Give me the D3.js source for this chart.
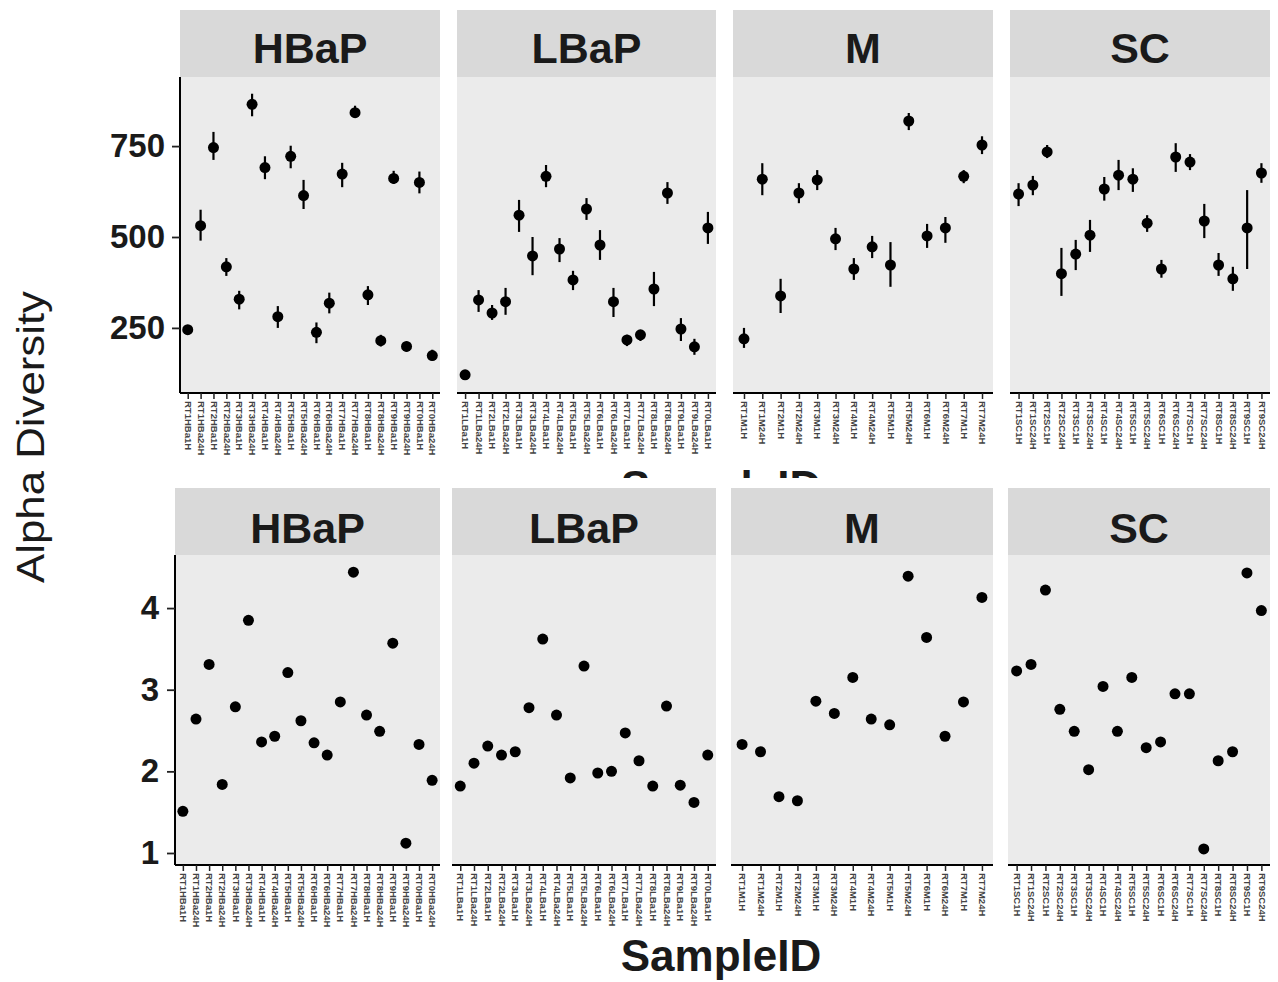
<!DOCTYPE html>
<html>
<head>
<meta charset="utf-8">
<script src="https://cdn.jsdelivr.net/npm/d3@7"></script>
<style>
  html, body { margin: 0; padding: 0; background: #ffffff; }
  svg { display: block; font-family: "Liberation Sans", Arial, sans-serif; }
</style>
</head>
<body>
<svg id="chart" width="1278" height="982"></svg>
<script>
// ---------------- DATA ----------------
const groups = ["HBaP", "LBaP", "M", "SC"];

// sample IDs per group (x tick labels)
const idsHBaP = ["RT1HBa1H","RT1HBa24H","RT2HBa1H","RT2HBa24H","RT3HBa1H","RT3HBa24H","RT4HBa1H","RT4HBa24H","RT5HBa1H","RT5HBa24H",
                 "RT6HBa1H","RT6HBa24H","RT7HBa1H","RT7HBa24H","RT8HBa1H","RT8HBa24H","RT9HBa1H","RT9HBa24H","RT0HBa1H","RT0HBa24H"];
const idsLBaP = ["RT1LBa1H","RT1LBa24H","RT2LBa1H","RT2LBa24H","RT3LBa1H","RT3LBa24H","RT4LBa1H","RT4LBa24H","RT5LBa1H","RT5LBa24H",
                 "RT6LBa1H","RT6LBa24H","RT7LBa1H","RT7LBa24H","RT8LBa1H","RT8LBa24H","RT9LBa1H","RT9LBa24H","RT0LBa1H"];
const idsM    = ["RT1M1H","RT1M24H","RT2M1H","RT2M24H","RT3M1H","RT3M24H","RT4M1H","RT4M24H","RT5M1H","RT5M24H",
                 "RT6M1H","RT6M24H","RT7M1H","RT7M24H"];
const idsSC   = ["RT1SC1H","RT1SC24H","RT2SC1H","RT2SC24H","RT3SC1H","RT3SC24H","RT4SC1H","RT4SC24H","RT5SC1H","RT5SC24H",
                 "RT6SC1H","RT6SC24H","RT7SC1H","RT7SC24H","RT8SC1H","RT8SC24H","RT9SC1H","RT9SC24H"];

// Top row: observed richness (mean, lower, upper)
const richHBaP   = [245, 531, 746, 418, 329, 865, 691, 281, 722, 614, 238, 318, 673, 842, 341, 215, 661, 199, 650, 174];
const richHBaPLo = [232, 490, 712, 393, 301, 832, 659, 250, 689, 577, 208, 290, 637, 829, 313, 199, 646, 185, 620, 160];
const richHBaPHi = [258, 575, 789, 442, 352, 894, 722, 310, 751, 657, 265, 347, 704, 861, 365, 231, 682, 212, 680, 190];

const richLBaP   = [121, 327, 291, 322, 560, 448, 667, 467, 382, 577, 478, 322, 217, 231, 357, 621, 247, 198, 525];
const richLBaPLo = [107, 294, 272, 286, 514, 395, 637, 431, 354, 547, 437, 280, 200, 214, 310, 591, 214, 176, 481];
const richLBaPHi = [133, 354, 313, 360, 602, 500, 698, 497, 407, 607, 519, 360, 231, 244, 404, 651, 277, 220, 569];

const richM   = [220, 659, 338, 621, 657, 495, 412, 473, 423, 819, 503, 525, 667, 753];
const richMLo = [195, 615, 291, 593, 629, 464, 382, 442, 363, 794, 470, 484, 648, 728];
const richMHi = [250, 703, 385, 648, 684, 525, 442, 503, 486, 841, 536, 555, 684, 777];

const richSC   = [618, 643, 734, 399, 453, 505, 632, 670, 659, 538, 412, 720, 706, 544, 423, 385, 525, 676];
const richSCLo = [585, 615, 717, 338, 409, 459, 600, 629, 624, 514, 388, 679, 684, 497, 393, 352, 412, 649];
const richSCHi = [648, 668, 753, 470, 492, 547, 665, 712, 689, 560, 437, 758, 728, 591, 456, 418, 629, 703];

// Bottom row: Shannon index
const shanHBaP = [1.51, 2.64, 3.31, 1.84, 2.79, 3.85, 2.36, 2.43, 3.21, 2.62, 2.35, 2.20, 2.85, 4.44, 2.69, 2.49, 3.57, 1.12, 2.33, 1.89];
const shanLBaP = [1.82, 2.10, 2.31, 2.20, 2.24, 2.78, 3.62, 2.69, 1.92, 3.29, 1.98, 2.00, 2.47, 2.13, 1.82, 2.80, 1.83, 1.62, 2.20];
const shanM    = [2.33, 2.24, 1.69, 1.64, 2.86, 2.71, 3.15, 2.64, 2.57, 4.39, 3.64, 2.43, 2.85, 4.13];
const shanSC   = [3.23, 3.31, 4.22, 2.76, 2.49, 2.02, 3.04, 2.49, 3.15, 2.29, 2.36, 2.95, 2.95, 1.05, 2.13, 2.24, 4.43, 3.97];

const richTicks = [250, 500, 750];
const shanTicks = [1, 2, 3, 4];

const yLabel = "Alpha Diversity";
const xLabel = "SampleID";

// ---------------- BUILD ----------------
const ids = [idsHBaP, idsLBaP, idsM, idsSC];
const richMean = [richHBaP, richLBaP, richM, richSC];
const richLo = [richHBaPLo, richLBaPLo, richMLo, richSCLo];
const richHi = [richHBaPHi, richLBaPHi, richMHi, richSCHi];
const shan = [shanHBaP, shanLBaP, shanM, shanSC];

const svg = d3.select("#chart");

const rows = [
  { stripTop: 10, panelTop: 77, panelBottom: 393, stripBase: 63,
    xs: [[180, 440], [457, 716], [733, 993], [1010, 1270]],
    domain: [71, 940], ticks: richTicks, errors: true, tickPad: 7 },
  { stripTop: 488, panelTop: 555, panelBottom: 865, stripBase: 543,
    xs: [[175, 440], [452, 716], [731, 993], [1008, 1270]],
    domain: [0.853, 4.65], ticks: shanTicks, errors: false, tickPad: 8 }
];

// clip for the top-row x title that is hidden under the bottom figure
svg.append("defs").append("clipPath").attr("id", "topclip")
  .append("rect").attr("x", 0).attr("y", 0).attr("width", 1278).attr("height", 478);

rows.forEach((row, ri) => {
  const y = d3.scaleLinear().domain(row.domain).range([row.panelBottom, row.panelTop]);
  groups.forEach((g, gi) => {
    const [x0, x1] = row.xs[gi];
    const x = d3.scalePoint().domain(ids[gi]).range([x0, x1]).padding(0.6);
    const gp = svg.append("g");

    // strip
    gp.append("rect").attr("x", x0).attr("y", row.stripTop)
      .attr("width", x1 - x0).attr("height", row.panelTop - row.stripTop)
      .attr("fill", "#d9d9d9");
    gp.append("text").attr("x", (x0 + x1) / 2).attr("y", row.stripBase)
      .attr("text-anchor", "middle").attr("font-size", 43).attr("font-weight", "bold")
      .attr("fill", "#1a1a1a").text(g);

    // panel
    gp.append("rect").attr("x", x0).attr("y", row.panelTop)
      .attr("width", x1 - x0).attr("height", row.panelBottom - row.panelTop)
      .attr("fill", "#ebebeb");

    // data
    const n = ids[gi].length;
    const idx = d3.range(n);
    if (row.errors) {
      gp.selectAll("line.err").data(idx).join("line").attr("class", "err")
        .attr("x1", i => x(ids[gi][i])).attr("x2", i => x(ids[gi][i]))
        .attr("y1", i => y(richLo[gi][i])).attr("y2", i => y(richHi[gi][i]))
        .attr("stroke", "#000").attr("stroke-width", 2.2);
      gp.selectAll("circle").data(idx).join("circle")
        .attr("cx", i => x(ids[gi][i])).attr("cy", i => y(richMean[gi][i]))
        .attr("r", 5.5).attr("fill", "#000");
    } else {
      gp.selectAll("circle").data(idx).join("circle")
        .attr("cx", i => x(ids[gi][i])).attr("cy", i => y(shan[gi][i]))
        .attr("r", 5.5).attr("fill", "#000");
    }

    // x axis
    const xa = gp.append("g").attr("transform", `translate(0,${row.panelBottom})`)
      .call(d3.axisBottom(x).tickSize(6).tickSizeOuter(0));
    xa.select(".domain").attr("stroke", "#000").attr("stroke-width", 2)
      .attr("d", `M${x0},0H${x1}`);
    xa.selectAll(".tick line").attr("stroke", "#222").attr("stroke-width", 1.5);
    xa.selectAll(".tick text")
      .attr("x", 0).attr("y", 0).attr("dy", "0.35em")
      .attr("transform", "translate(0,8) rotate(90)")
      .attr("text-anchor", "start")
      .attr("font-size", 9.5).attr("font-weight", "bold")
      .attr("font-family", "'Liberation Sans', Arial, sans-serif")
      .attr("fill", "#444");

    // y axis (first panel only)
    if (gi === 0) {
      const ya = gp.append("g").attr("transform", `translate(${x0},0)`)
        .call(d3.axisLeft(y).tickValues(row.ticks).tickSize(8).tickPadding(row.tickPad).tickSizeOuter(0)
              .tickFormat(d3.format("d")));
      ya.select(".domain").attr("stroke", "#000").attr("stroke-width", 2)
        .attr("d", `M0,${row.panelTop}V${row.panelBottom}`);
      ya.selectAll(".tick line").attr("stroke", "#222").attr("stroke-width", 1.8);
      ya.selectAll(".tick text").attr("font-size", 33).attr("font-weight", "bold")
        .attr("fill", "#1a1a1a").attr("font-family", "'Liberation Sans', Arial, sans-serif");
    }
  });
});

// top-row x title, partially hidden
svg.append("text").attr("clip-path", "url(#topclip)")
  .attr("x", 721).attr("y", 502).attr("text-anchor", "middle")
  .attr("font-size", 44).attr("font-weight", "bold").attr("fill", "#1a1a1a").text(xLabel);

// bottom x title
svg.append("text").attr("x", 721).attr("y", 971).attr("text-anchor", "middle")
  .attr("font-size", 44).attr("font-weight", "bold").attr("fill", "#1a1a1a").text(xLabel);

// y title
svg.append("text").attr("transform", "translate(44,437) rotate(-90)")
  .attr("text-anchor", "middle").attr("font-size", 38).attr("fill", "#1a1a1a")
  .attr("textLength", 292).attr("lengthAdjust", "spacingAndGlyphs")
  .text(yLabel);
</script>
</body>
</html>
